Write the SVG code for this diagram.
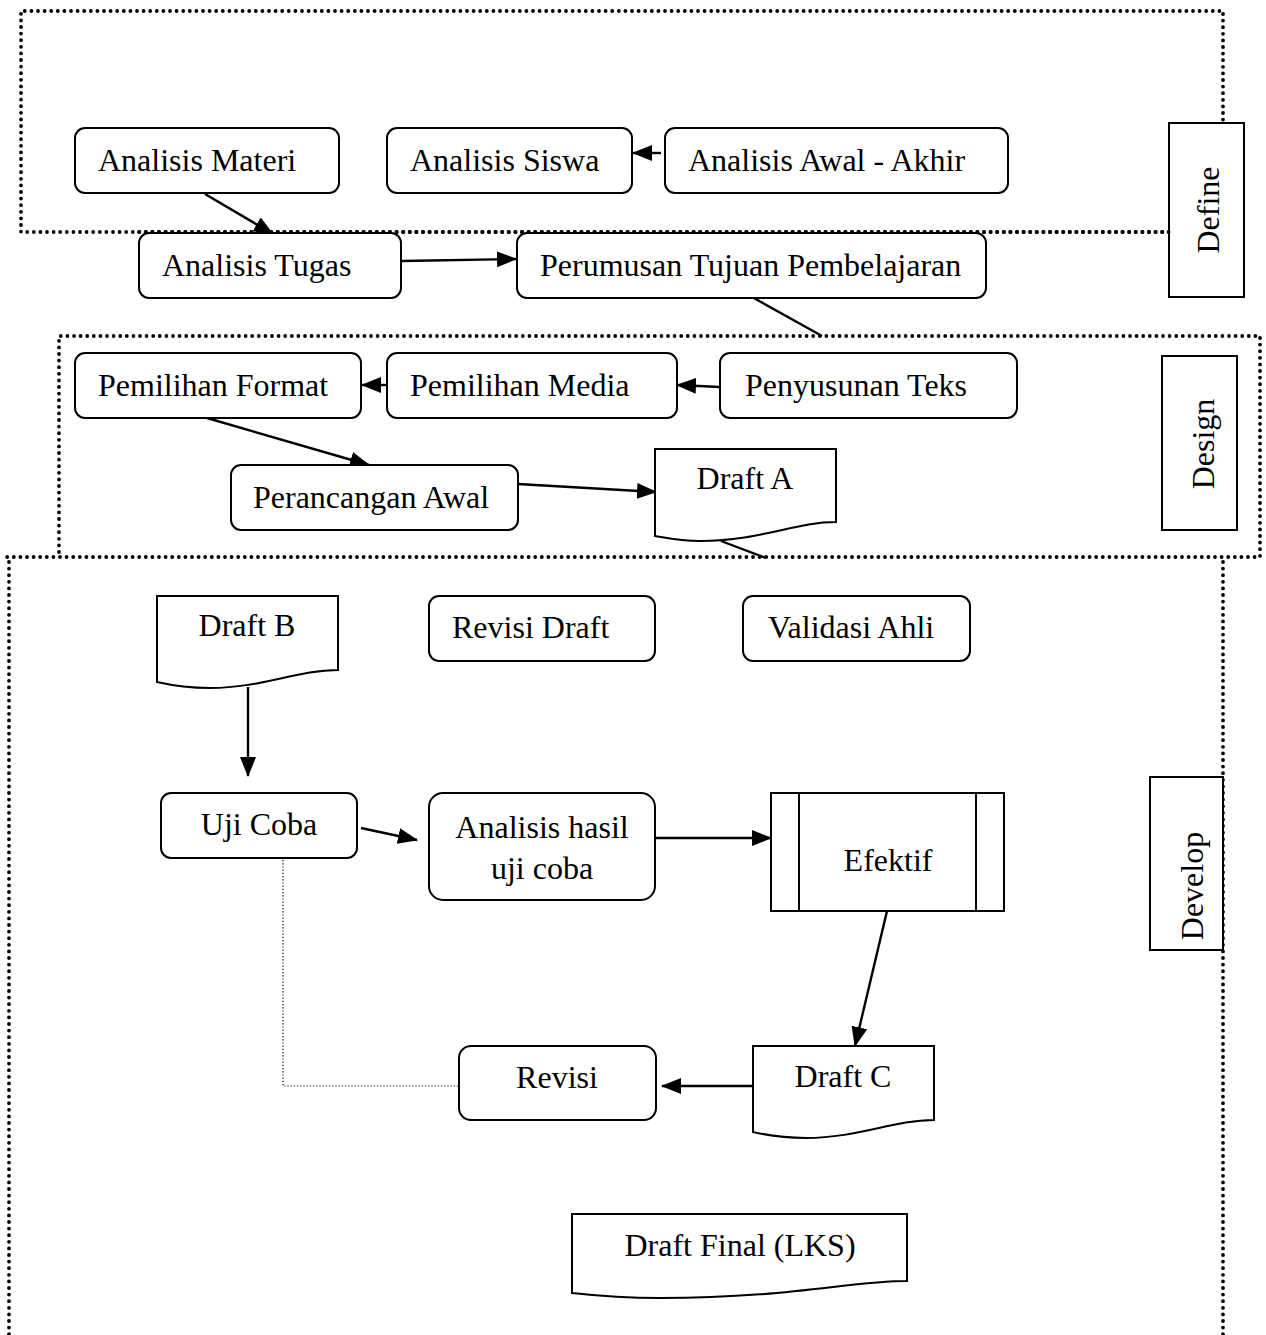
<svg xmlns="http://www.w3.org/2000/svg" width="1266" height="1335" viewBox="0 0 1266 1335">
<style>
text{font-family:"Liberation Serif","Times New Roman",serif;font-size:32px;fill:#000}
.box{fill:#fff;stroke:#000;stroke-width:2}
.lbl{fill:#fff;stroke:#000;stroke-width:2}
.dot{fill:none;stroke:#000;stroke-width:3.8;stroke-dasharray:0 6.6;stroke-linecap:round}
.ln{fill:none;stroke:#000;stroke-width:2.4}
.arr{fill:none;stroke:#000;stroke-width:2.4;marker-end:url(#ah)}
.thin{fill:none;stroke:#000;stroke-width:1.2;stroke-dasharray:1.2 2}
.m{text-anchor:middle}
</style>
<defs>
<marker id="ah" markerUnits="userSpaceOnUse" markerWidth="20" markerHeight="18" viewBox="0 0 20 18" refX="19" refY="9" orient="auto">
<path d="M0,1 L20,9 L0,17 Z" fill="#000"/>
</marker>
</defs>

<g id="define-region">
<path class="dot" d="M1169,232 H21 V11 H1223 V123"/>
</g>
<g id="design-region">
<path class="dot" d="M59,552 V336 H1260 V557 H4"/>
</g>
<g id="develop-region">
<path class="dot" d="M9,562 V1335 M1223,562 V1335"/>
</g>

<g id="connectors">
<path class="arr" d="M205,194 L273,234"/>
<path class="arr" d="M402,261 L516,259"/>
<path class="arr" d="M661,153 L633,153"/>
<path class="ln" d="M752,297 L822,336"/>
<path class="arr" d="M387,385 L362,385"/>
<path class="arr" d="M720,387 L677,385"/>
<path class="arr" d="M207,418 L369,465"/>
<path class="arr" d="M518,484 L656,492"/>
<path class="ln" d="M721,541 L766,558"/>
<path class="arr" d="M248,687 V776"/>
<path class="arr" d="M361,828 L417,840"/>
<path class="arr" d="M655,838 H771"/>
<path class="arr" d="M887,911 L855,1046"/>
<path class="arr" d="M753,1086 H662"/>
<path class="thin" d="M283,860 V1086 H458"/>
</g>

<g id="label-define"><rect class="lbl" x="1169" y="123" width="75" height="174"/><text class="m" transform="translate(1219,210) rotate(-90)">Define</text></g>
<g id="label-design"><rect class="lbl" x="1162" y="356" width="75" height="174"/><text class="m" transform="translate(1214,444) rotate(-90)">Design</text></g>
<g id="label-develop"><rect class="lbl" x="1150" y="777" width="73" height="173"/><text class="m" transform="translate(1203,886) rotate(-90)">Develop</text></g>

<g id="analisis-materi"><rect class="box" x="75" y="128" width="264" height="65" rx="10"/><text x="98" y="171">Analisis Materi</text></g>
<g id="analisis-siswa"><rect class="box" x="387" y="128" width="245" height="65" rx="10"/><text x="410" y="171">Analisis Siswa</text></g>
<g id="analisis-awal-akhir"><rect class="box" x="665" y="128" width="343" height="65" rx="10"/><text x="688" y="171">Analisis Awal - Akhir</text></g>
<g id="analisis-tugas"><rect class="box" x="139" y="233" width="262" height="65" rx="10"/><text x="162" y="276">Analisis Tugas</text></g>
<g id="perumusan"><rect class="box" x="517" y="233" width="469" height="65" rx="10"/><text x="540" y="276">Perumusan Tujuan Pembelajaran</text></g>
<path class="dot" d="M139,232 H1169" />

<g id="pemilihan-format"><rect class="box" x="75" y="353" width="286" height="65" rx="10"/><text x="98" y="396">Pemilihan Format</text></g>
<g id="pemilihan-media"><rect class="box" x="387" y="353" width="290" height="65" rx="10"/><text x="410" y="396">Pemilihan Media</text></g>
<g id="penyusunan-teks"><rect class="box" x="720" y="353" width="297" height="65" rx="10"/><text x="745" y="396">Penyusunan Teks</text></g>
<g id="perancangan-awal"><rect class="box" x="231" y="465" width="287" height="65" rx="10"/><text x="253" y="508">Perancangan Awal</text></g>
<g id="draft-a"><path class="box" d="M655,449 H836 V522 C795,522 760,541 700,541 C680,541 667,538 655,536 Z"/><text class="m" x="745" y="489">Draft A</text></g>

<g id="draft-b"><path class="box" d="M157,596 H338 V670 C297,670 262,688 210,688 C187,688 170,685 157,682 Z"/><text class="m" x="247" y="636">Draft B</text></g>
<g id="revisi-draft"><rect class="box" x="429" y="596" width="226" height="65" rx="10"/><text x="452" y="638">Revisi Draft</text></g>
<g id="validasi-ahli"><rect class="box" x="743" y="596" width="227" height="65" rx="10"/><text x="768" y="638">Validasi Ahli</text></g>
<g id="uji-coba"><rect class="box" x="161" y="793" width="196" height="65" rx="10"/><text class="m" x="259" y="835">Uji Coba</text></g>
<g id="analisis-hasil"><rect class="box" x="429" y="793" width="226" height="107" rx="14"/><text class="m" x="542" y="838">Analisis hasil</text><text class="m" x="542" y="879">uji coba</text></g>
<g id="efektif"><rect class="box" x="771" y="793" width="233" height="118"/><path class="ln" style="stroke-width:2" d="M799,793 V911 M976,793 V911"/><text class="m" x="888" y="871">Efektif</text></g>
<g id="draft-c"><path class="box" d="M753,1046 H934 V1120 C893,1120 858,1138 806,1138 C783,1138 766,1135 753,1132 Z"/><text class="m" x="843" y="1087">Draft C</text></g>
<g id="revisi"><rect class="box" x="459" y="1046" width="197" height="74" rx="12"/><text class="m" x="557" y="1088">Revisi</text></g>
<g id="draft-final"><path class="box" d="M572,1214 H907 V1281 C850,1281 790,1298 660,1298 C620,1298 590,1295 572,1293 Z"/><text class="m" x="740" y="1256">Draft Final (LKS)</text></g>
</svg>
